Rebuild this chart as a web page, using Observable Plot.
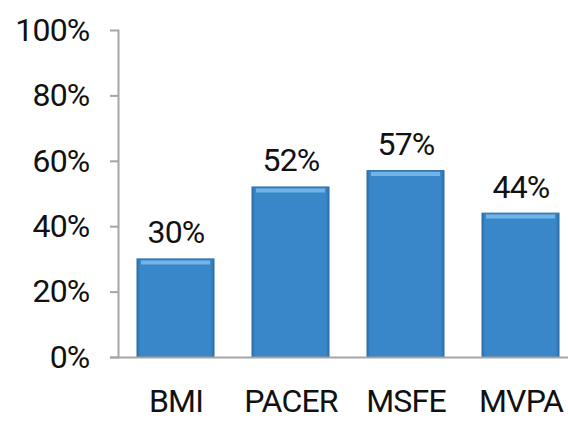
<!DOCTYPE html>
<html>
<head>
<meta charset="utf-8">
<script src="https://cdn.jsdelivr.net/npm/d3@7"></script>
<script src="https://cdn.jsdelivr.net/npm/@observablehq/plot@0.6"></script>
<style>
  html, body { margin: 0; padding: 0; background: #fff; }
  #chart svg { display: block; }
  #chart svg text { letter-spacing: -0.8px; }
</style>
</head>
<body>
<div id="chart"></div>
<script>
const categories = ["BMI", "PACER", "MSFE", "MVPA"];
const values = [0.30, 0.52, 0.57, 0.44];
const valueLabels = ["30%", "52%", "57%", "44%"];
const yTicks = [0, 0.2, 0.4, 0.6, 0.8, 1.0];

const data = categories.map((c, i) => ({category: c, value: values[i], label: valueLabels[i]}));

const defs = () => {
  const d = d3.create("svg:defs");
  const g = d.append("linearGradient").attr("id", "barGrad").attr("x1", 0).attr("x2", 1).attr("y1", 0).attr("y2", 0);
  g.append("stop").attr("offset", "0%").attr("stop-color", "#2a6eae");
  g.append("stop").attr("offset", "4%").attr("stop-color", "#3987c8");
  g.append("stop").attr("offset", "96%").attr("stop-color", "#3987c8");
  g.append("stop").attr("offset", "100%").attr("stop-color", "#2a6eae");
  return d.node();
};

const font = "Roboto, 'Noto Sans', sans-serif";
const fs = 32;

const chart = Plot.plot({
  width: 568,
  height: 421,
  marginTop: 30,
  marginBottom: 64,
  marginLeft: 118,
  marginRight: 0,
  style: {fontFamily: font, fontSize: fs + "px", color: "#111", background: "#fff"},
  x: {domain: categories, range: [118, 578], paddingInner: 0.33, paddingOuter: 0.165, label: null},
  y: {domain: [0, 1], label: null},
  marks: [
    defs,
    Plot.barY(data, {x: "category", y: "value", fill: "url(#barGrad)", stroke: "#2d6fa8", strokeWidth: 1}),
    Plot.tickY(data, {x: "category", y: "value", stroke: "#72b4e8", strokeWidth: 4, dy: 3, insetLeft: 4, insetRight: 4}),
    Plot.frame({anchor: "left", stroke: "#a6a6a6", strokeWidth: 2}),
    Plot.ruleY([0], {stroke: "#a6a6a6", strokeWidth: 2, insetLeft: -8}),
    Plot.axisY({ticks: yTicks, tickFormat: d3.format(".0%"), tickSize: 8, tickPadding: 21, stroke: "#a6a6a6", strokeWidth: 2, strokeOpacity: 1, fontSize: fs, fill: "#111"}),
    Plot.axisX({tickSize: 0, tickPadding: 32, fontSize: fs, fill: "#111"}),
    Plot.text(data, {x: "category", y: "value", text: "label", dy: -16, lineAnchor: "bottom", fontSize: fs, fill: "#111"})
  ]
});
document.getElementById("chart").appendChild(chart);
</script>
</body>
</html>
